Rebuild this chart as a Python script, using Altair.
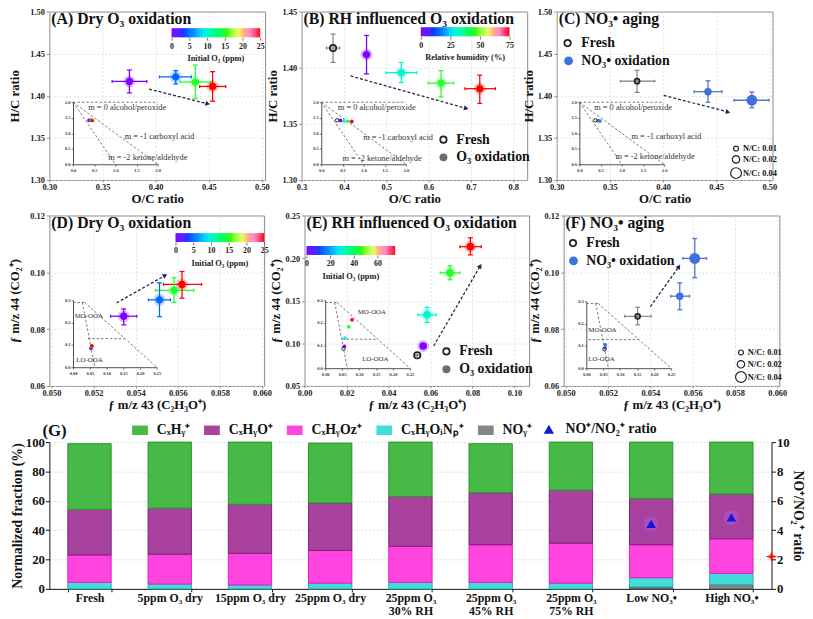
import math
import altair as alt
import pandas as pd

FONT = "Liberation Serif"
RAINBOW = ["#8000ff", "#2a2aff", "#0088ff", "#00f0e0", "#00ff70", "#30ff00", "#d8ff70", "#ff90c8", "#ff0000"]
NAVY = "#23234f"
BLUE = "#3f6fe0"

# ---------------- data ----------------
# (A) Dry O3 oxidation (O/C vs H/C)
a_o3 = [0, 5, 15, 25]
a_oc = [0.3753, 0.4189, 0.4373, 0.4536]
a_oc_lo = [0.3590, 0.4036, 0.4230, 0.4414]
a_oc_hi = [0.3916, 0.4337, 0.4520, 0.4659]
a_hc = [1.4170, 1.4225, 1.4163, 1.4111]
a_hc_lo = [1.4034, 1.4140, 1.3967, 1.3936]
a_hc_hi = [1.4306, 1.4300, 1.4365, 1.4287]
a_arrow_x = [0.3938, 0.4490]
a_arrow_y = [1.4080, 1.3905]

# (B) RH influenced O3 oxidation
b_rh = [0, 30, 45, 75]
b_oc = [0.4535, 0.5356, 0.6295, 0.7210]
b_oc_lo = [0.4460, 0.4993, 0.5990, 0.6860]
b_oc_hi = [0.4605, 0.5720, 0.6598, 0.7580]
b_hc = [1.4117, 1.3956, 1.3863, 1.3813]
b_hc_lo = [1.3945, 1.3868, 1.3740, 1.3682]
b_hc_hi = [1.4287, 1.4047, 1.3974, 1.3933]
b_fresh = [0.3744, 0.3590, 0.3900, 1.4175, 1.4047, 1.4300]
b_arrow_x = [0.4156, 0.6890]
b_arrow_y = [1.3927, 1.3638]

# (C) NO3 aging
c_nc = [0.02, 0.04]
c_oc = [0.4423, 0.4836]
c_oc_lo = [0.4293, 0.4668]
c_oc_hi = [0.4555, 0.4997]
c_hc = [1.4049, 1.3947]
c_hc_lo = [1.3924, 1.3858]
c_hc_hi = [1.4178, 1.4045]
c_fresh = [0.3756, 0.3598, 0.3923, 1.4174, 1.4040, 1.4303]
c_arrow_x = [0.4007, 0.4612]
c_arrow_y = [1.4006, 1.3807]

# (D) Dry O3 oxidation (f43 vs f44)
d_o3 = [0, 5, 15, 25]
d_f43 = [0.05343, 0.05513, 0.05582, 0.05620]
d_f43_lo = [0.05281, 0.05460, 0.05494, 0.05532]
d_f43_hi = [0.05405, 0.05565, 0.05676, 0.05713]
d_f44 = [0.08454, 0.09030, 0.09366, 0.09574]
d_f44_lo = [0.08150, 0.08440, 0.08940, 0.09090]
d_f44_hi = [0.08710, 0.09630, 0.09810, 0.10030]
d_arrow_x = [0.05309, 0.05540]
d_arrow_y = [0.08920, 0.09890]

# (E) RH influenced O3 oxidation
e_rh = [0, 30, 45, 75]
e_f43 = [0.0565, 0.0584, 0.0693, 0.0790]
e_f43_lo = [0.0560, 0.0540, 0.0646, 0.0740]
e_f43_hi = [0.0570, 0.0628, 0.0740, 0.0842]
e_f44 = [0.0968, 0.1334, 0.1827, 0.2134]
e_f44_lo = [0.0950, 0.1245, 0.1746, 0.2038]
e_f44_hi = [0.0986, 0.1423, 0.1911, 0.2238]
e_fresh = [0.0537, 0.0537, 0.0537, 0.0860, 0.0860, 0.0860]
e_arrow_x = [0.0615, 0.0837]
e_arrow_y = [0.0968, 0.1908]

# (F) NO3 aging
f_nc = [0.02, 0.04]
f_f43 = [0.05539, 0.05610]
f_f43_lo = [0.05496, 0.05554]
f_f43_hi = [0.05585, 0.05666]
f_f44 = [0.0916, 0.1049]
f_f44_lo = [0.0868, 0.0981]
f_f44_hi = [0.0963, 0.1119]
f_fresh = [0.0534, 0.05279, 0.05403, 0.0845, 0.0815, 0.0877]
f_arrow_x = [0.05400, 0.05535]
f_arrow_y = [0.0879, 0.1020]
nc_fresh = 0.01
nc_legend_vals = [0.01, 0.02, 0.04]

# insets
vk_lines_x = [[0, 2], [0, 2], [0, 1]]
vk_lines_y = [[2, 2], [2, 0], [2, 0]]
vk_labels = ["m = 0 alcohol/peroxide", "m = -1 carboxyl acid", "m = -2 ketone/aldehyde"]
tri_lines_x = [[0.0, 0.035], [0.028, 0.065], [0.035, 0.25]]
tri_lines_y = [[0.29, 0.29], [0.29, 0.0], [0.29, 0.0]]
tri_mid_y = 0.128
tri_labels = ["MO-OOA", "LO-OOA"]

# (G) stacked fractions
g_cats = ["Fresh", "5ppm O₃ dry", "15ppm O₃ dry", "25ppm O₃ dry", "25ppm O₃|30% RH",
          "25ppm O₃|45% RH", "25ppm O₃|75% RH", "Low NO₃•", "High NO₃•"]
g_comps = ["CₓHᵧ⁺", "CₓHᵧO⁺", "CₓHᵧOz⁺", "CₓHᵧOᵢNₚ⁺", "NOᵧ⁺"]
g_cxhy = [44.8, 45.0, 42.4, 40.8, 37.1, 33.4, 32.8, 38.4, 35.4]
g_cxhyo = [31.0, 31.4, 33.4, 32.3, 33.9, 35.4, 36.0, 31.5, 30.5]
g_cxhyoz = [18.7, 20.3, 21.6, 22.3, 24.6, 25.7, 27.3, 22.5, 23.6]
g_chon = [4.4, 3.3, 2.6, 3.9, 4.4, 4.4, 3.9, 6.3, 7.7]
g_noy = [0, 0, 0, 0, 0, 0, 0, 1.3, 2.8]
ratio_cats = ["Low NO₃•", "High NO₃•"]
ratio_val = [4.43, 4.87]
ratio_err = [0.17, 0.17]
ref_ratio = [2.2]
ratio_label = "NO⁺/NO₂⁺ ratio"

# ---------------- helpers ----------------
ONE = pd.DataFrame({"k": [0]})
MAIN_AX = dict(labelFont=FONT, labelFontSize=8.5, labelFontWeight="bold", labelColor="#222",
               titleFont=FONT, titleFontSize=13, titleFontWeight="bold",
               titleColor="#111", tickColor="#777", tickWidth=0.8,
               domain=False, grid=True, gridColor="#d4d4d4", gridDash=[2, 2], gridWidth=0.7)
INSET_AX = dict(labelFont=FONT, labelFontSize=4.5, labelFontWeight="bold", labelColor="#333",
                tickSize=2, tickColor="#222", tickWidth=0.6, domainColor="#222", domainWidth=0.8,
                labelPadding=1, grid=False, labelFlush=False, title=None)
VBAR = "M0,-1V1"
CB_LEN, CB_THICK, CB_STEPS = 90, 9, 90


def stops(hi):
    return [hi * i / 8 for i in range(9)]


def txt(x, y, s, size, align="left", color="#111", weight="bold"):
    return alt.Chart(ONE).mark_text(text=s, align=align, baseline="middle", font=FONT,
                                    fontSize=size, fontWeight=weight, color=color).encode(
        x=alt.value(x), y=alt.value(y))


def glyph(x, y, size, filled, color, sw=1.6):
    return alt.Chart(ONE).mark_point(shape="circle", filled=filled, size=size, color=color,
                                     strokeWidth=sw, opacity=1).encode(x=alt.value(x), y=alt.value(y))


def nc_size(v):
    return 25 + (v - 0.01) / 0.03 * 95


def colorbar(hi, vals, title, lx, ly):
    fill = alt.Color("c:Q", scale=alt.Scale(domain=stops(hi), range=RAINBOW), legend=None)
    stroke = alt.Stroke("c:Q", scale=alt.Scale(domain=stops(hi), range=RAINBOW), legend=None)
    return dict(fill=fill, stroke=stroke, cb=dict(hi=hi, vals=vals, title=title, lx=lx, ly=ly))


def pts(x, xlo, xhi, y, ylo, yhi, **extra):
    d = {"x": x, "xlo": xlo, "xhi": xhi, "y": y, "ylo": ylo, "yhi": yhi}
    d.update(extra)
    return pd.DataFrame(d)


def colorbar_layers(cb, fill, h):
    hi, lx, ly = cb["hi"], cb["lx"], cb["ly"]
    c0 = [hi * i / CB_STEPS for i in range(CB_STEPS)]
    c1 = [min(hi, hi * (i + 1.6) / CB_STEPS) for i in range(CB_STEPS)]
    ramp = pd.DataFrame({"c0": c0, "c1": c1, "c": [hi * (i + 0.5) / CB_STEPS for i in range(CB_STEPS)]})
    csc = alt.Scale(domain=[0, hi], range=[lx, lx + CB_LEN], nice=False, zero=False)
    cax = alt.Axis(orient="bottom", offset=(ly + CB_THICK) - h, values=cb["vals"], format="d", title=None,
                   grid=False, domain=False, labelFont=FONT, labelFontSize=8, labelFontWeight="bold",
                   labelColor="#222", tickSize=3, tickColor="#555", tickWidth=0.8, labelPadding=2,
                   labelFlush=False)
    bar = alt.Chart(ramp).mark_rect().encode(
        x=alt.X("c0:Q", scale=csc, axis=cax), x2="c1",
        y=alt.value(ly), y2=alt.value(ly + CB_THICK), color=fill)
    return [bar, txt(lx + CB_LEN / 2, ly + CB_THICK + 21, cb["title"], 8.5, align="center", color="#222")]


def panel(cfg):
    w, h = cfg["w"], cfg["h"]
    xsc = alt.Scale(domain=cfg["xdom"], nice=False, zero=False)
    ysc = alt.Scale(domain=cfg["ydom"], nice=False, zero=False)
    xax = alt.Axis(orient="bottom", values=cfg["xvals"], format=cfg["xfmt"], title=cfg["xtitle"],
                   labelFlush=False, titlePadding=1, tickSize=2, labelPadding=1, **MAIN_AX)
    yax = alt.Axis(orient="left", values=cfg["yvals"], format=cfg["yfmt"], title=cfg["ytitle"],
                   labelFlush=False, minExtent=cfg["yext"], maxExtent=cfg["yext"],
                   titlePadding=cfg["ytp"], tickSize=3, labelPadding=2, **MAIN_AX)

    def X(f):
        return alt.X(f"{f}:Q", scale=xsc, axis=xax)

    def Y(f):
        return alt.Y(f"{f}:Q", scale=ysc, axis=yax)

    ixsc = alt.Scale(domain=cfg["idx"], range=cfg["irx"], nice=False, zero=False)
    iysc = alt.Scale(domain=cfg["idy"], range=cfg["iry"], nice=False, zero=False)
    ixax = alt.Axis(orient="bottom", offset=cfg["iry"][0] - h, values=cfg["ixv"], format=cfg["ixf"], **INSET_AX)
    iyax = alt.Axis(orient="left", offset=-cfg["irx"][0], values=cfg["iyv"], format=cfg["iyf"], **INSET_AX)

    def IX(f):
        return alt.X(f"{f}:Q", scale=ixsc, axis=ixax)

    def IY(f):
        return alt.Y(f"{f}:Q", scale=iysc, axis=iyax)

    fill, stroke = cfg["color"]["fill"], cfg["color"]["stroke"]
    P = cfg["pts"]
    base = alt.Chart(P)
    lw = 1.3
    main = [
        base.mark_rule(strokeWidth=lw).encode(x=X("xlo"), x2="xhi", y=Y("y"), stroke=stroke),
        base.mark_rule(strokeWidth=lw).encode(x=X("x"), y=Y("ylo"), y2="yhi", stroke=stroke),
        base.mark_point(shape=VBAR, size=9, strokeWidth=lw, opacity=1).encode(x=X("xlo"), y=Y("y"), stroke=stroke),
        base.mark_point(shape=VBAR, size=9, strokeWidth=lw, opacity=1).encode(x=X("xhi"), y=Y("y"), stroke=stroke),
        base.mark_point(shape="stroke", size=25, strokeWidth=lw, opacity=1).encode(x=X("x"), y=Y("ylo"), stroke=stroke),
        base.mark_point(shape="stroke", size=25, strokeWidth=lw, opacity=1).encode(x=X("x"), y=Y("yhi"), stroke=stroke),
    ]
    if cfg.get("size_enc") is not None:
        main.append(base.mark_circle(opacity=0.25).encode(x=X("x"), y=Y("y"), color=fill,
                                                          size=cfg["halo_size_enc"]))
        main.append(base.mark_circle(opacity=1).encode(x=X("x"), y=Y("y"), color=fill, size=cfg["size_enc"]))
    else:
        main.append(base.mark_circle(opacity=0.25, size=150).encode(x=X("x"), y=Y("y"), color=fill))
        main.append(base.mark_circle(opacity=1, size=cfg["dot"]).encode(x=X("x"), y=Y("y"), color=fill))

    fr = cfg.get("fresh")
    if fr is not None:
        fb = alt.Chart(fr)
        gcol = "#7a7a7a"
        main += [
            fb.mark_rule(strokeWidth=1.1, color=gcol).encode(x=X("xlo"), x2="xhi", y=Y("y")),
            fb.mark_rule(strokeWidth=1.1, color=gcol).encode(x=X("x"), y=Y("ylo"), y2="yhi"),
            fb.mark_point(shape=VBAR, size=9, strokeWidth=1.1, color=gcol, opacity=1).encode(x=X("xlo"), y=Y("y")),
            fb.mark_point(shape=VBAR, size=9, strokeWidth=1.1, color=gcol, opacity=1).encode(x=X("xhi"), y=Y("y")),
            fb.mark_point(shape="stroke", size=25, strokeWidth=1.1, color=gcol, opacity=1).encode(x=X("x"), y=Y("ylo")),
            fb.mark_point(shape="stroke", size=25, strokeWidth=1.1, color=gcol, opacity=1).encode(x=X("x"), y=Y("yhi")),
            fb.mark_point(shape="circle", filled=False, color="#222", strokeWidth=1.8, opacity=1,
                          size=cfg["fresh_size"]).encode(x=X("x"), y=Y("y")),
        ]

    # arrow
    ax_, ay_ = cfg["arrow_x"], cfg["arrow_y"]
    arr = pd.DataFrame({"x": ax_, "y": ay_, "o": [0, 1]})
    px = (ax_[1] - ax_[0]) / (cfg["xdom"][1] - cfg["xdom"][0]) * w
    py = -(ay_[1] - ay_[0]) / (cfg["ydom"][1] - cfg["ydom"][0]) * h
    ang = math.degrees(math.atan2(px, -py)) % 360
    main.append(alt.Chart(arr).mark_line(strokeDash=[3, 2], strokeWidth=1.3, color=NAVY).encode(
        x=X("x"), y=Y("y"), order="o:Q"))
    main.append(alt.Chart(arr.iloc[[1]]).mark_point(shape="triangle-up", filled=True, size=28, angle=ang,
                                                    color=NAVY, opacity=1).encode(x=X("x"), y=Y("y")))

    main.append(txt(2, 8, cfg["title"], 16))
    main += cfg["extras"]

    # inset
    lines = cfg["ilines"]
    inset = [
        alt.Chart(lines).mark_line(strokeDash=[2.5, 2], strokeWidth=0.8, color="#555").encode(
            x=IX("x"), y=IY("y"), detail="g:N"),
        alt.Chart(cfg["ilabels"]).mark_text(align="left", baseline="middle", font=FONT,
                                           fontSize=cfg["ilabel_size"], color="#333").encode(
            x=IX("x"), y=IY("y"), text="t:N"),
        base.mark_circle(opacity=1, size=14).encode(x=IX("x"), y=IY("y"), color=fill),
    ]
    if fr is not None:
        inset.append(alt.Chart(fr).mark_point(shape="circle", filled=False, color="#222", strokeWidth=1,
                                              size=12, opacity=1).encode(x=IX("x"), y=IY("y")))

    children = [alt.layer(*main), alt.layer(*inset)]
    cb = cfg["color"].get("cb")
    if cb is not None:
        children.append(alt.layer(*colorbar_layers(cb, fill, h)))
    return alt.layer(*children).resolve_scale(
        x="independent", y="independent").properties(width=w, height=h)


def vk_inset(label_pos):
    rows = []
    for g, (xs, ys) in enumerate(zip(vk_lines_x, vk_lines_y)):
        for x, y in zip(xs, ys):
            rows.append({"x": x, "y": y, "g": g})
    lab = pd.DataFrame({"x": [p[0] for p in label_pos], "y": [p[1] for p in label_pos], "t": vk_labels})
    return pd.DataFrame(rows), lab


def tri_inset(mid_x0, label_pos):
    rows = []
    for g, (xs, ys) in enumerate(zip(tri_lines_x, tri_lines_y)):
        for x, y in zip(xs, ys):
            rows.append({"x": x, "y": y, "g": g})
    rows.append({"x": mid_x0, "y": tri_mid_y, "g": 9})
    rows.append({"x": 0.155, "y": tri_mid_y, "g": 9})
    lab = pd.DataFrame({"x": [p[0] for p in label_pos], "y": [p[1] for p in label_pos], "t": tri_labels})
    return pd.DataFrame(rows), lab


VK = dict(idx=[0, 2], idy=[0, 2], ixv=[0, 0.5, 1, 1.5, 2], ixf=".1f", iyv=[0, 0.5, 1, 1.5, 2], iyf=".1f",
          ilabel_size=8.5)
TRI = dict(idx=[0, 0.25], idy=[0, 0.3], ixv=[0, 0.05, 0.1, 0.15, 0.2, 0.25], ixf=".2f",
           iyv=[0, 0.1, 0.2, 0.3], iyf=".1f", ilabel_size=7)
ROW1 = dict(h=171, ydom=[1.30, 1.50], yvals=[1.30, 1.35, 1.40, 1.45, 1.50], yfmt=".2f",
            xtitle="O/C ratio", ytitle="H/C ratio")
ROW2 = dict(h=173, yfmt=".2f", xtitle="ƒ m/z 43 (C₂H₃O⁺)", ytitle="ƒ m/z 44 (CO₂⁺)")
LEFTCOL = dict(yext=24, ytp=4)
INNERCOL = dict(yext=20, ytp=2)

size_enc = alt.Size("nc:Q", scale=alt.Scale(domain=[0.01, 0.04], range=[25, 120]), legend=None)
halo_enc = alt.Size("nc:Q", scale=alt.Scale(domain=[0.01, 0.04], range=[25, 120]), legend=None)
BLUE_ENC = dict(fill=alt.value(BLUE), stroke=alt.value("#4a78c8"))


def nc_legend(x0, ys):
    out = []
    for v, yy in zip(nc_legend_vals, ys):
        out.append(glyph(x0, yy, nc_size(v), False, "#222", 1.2))
        out.append(txt(x0 + 7, yy, f"N/C: {v:.2f}", 8.5))
    return out


# ---- panels ----
lA, tA = vk_inset([(0.36, 1.84), (1.22, 0.91), (0.83, 0.24)])
A = panel(dict(ROW1, **VK, **LEFTCOL, w=219, xdom=[0.3, 0.503], xvals=[0.30, 0.35, 0.40, 0.45, 0.50],
               xfmt=".2f", irx=[24, 110], iry=[155, 92], ilines=lA, ilabels=tA,
               pts=pts(a_oc, a_oc_lo, a_oc_hi, a_hc, a_hc_lo, a_hc_hi, c=a_o3),
               color=colorbar(25, [0, 5, 10, 15, 20, 25], "Initial O₃ (ppm)", 124, 17), dot=55,
               arrow_x=a_arrow_x, arrow_y=a_arrow_y, title="(A) Dry O₃ oxidation", extras=[]))

lB, tB = vk_inset([(0.39, 1.85), (0.99, 0.88), (0.50, 0.21)])
B = panel(dict(ROW1, **VK, **INNERCOL, w=229, xdom=[0.3, 0.833], xvals=[0.3, 0.4, 0.5, 0.6, 0.7, 0.8],
               xfmt=".1f", ydom=[1.30, 1.45], yvals=[1.30, 1.35, 1.40, 1.45],
               irx=[20, 106], iry=[155, 92], ilines=lB, ilabels=tB,
               pts=pts(b_oc, b_oc_lo, b_oc_hi, b_hc, b_hc_lo, b_hc_hi, c=b_rh),
               fresh=pts(*[[v] for v in b_fresh]), fresh_size=42,
               color=colorbar(75, [0, 25, 50, 75], "Relative humidity (%)", 121, 16), dot=55,
               arrow_x=b_arrow_x, arrow_y=b_arrow_y, title="(B) RH influenced O₃ oxidation",
               extras=[glyph(144, 130, 42, False, "#222", 1.8), txt(157, 130, "Fresh", 14),
                       glyph(144, 148, 65, True, "#6d6d6d"), txt(157, 148, "O₃ oxidation", 14)]))

lC, tC = vk_inset([(0.35, 1.84), (1.23, 0.91), (0.85, 0.26)])
C = panel(dict(ROW1, **VK, **INNERCOL, w=219, xdom=[0.3, 0.503], xvals=[0.30, 0.35, 0.40, 0.45, 0.50],
               xfmt=".2f", irx=[23, 109], iry=[155, 92], ilines=lC, ilabels=tC,
               pts=pts(c_oc, c_oc_lo, c_oc_hi, c_hc, c_hc_lo, c_hc_hi, nc=c_nc),
               fresh=pts(*[[v] for v in c_fresh]), fresh_size=nc_size(nc_fresh),
               color=BLUE_ENC, size_enc=size_enc, halo_size_enc=halo_enc,
               arrow_x=c_arrow_x, arrow_y=c_arrow_y, title="(C) NO₃• aging",
               extras=[glyph(11, 32, 42, False, "#222", 1.8), txt(25, 32, "Fresh", 14),
                       glyph(12, 50, 80, True, BLUE), txt(25, 50, "NO₃• oxidation", 14)]
               + nc_legend(182, [139, 150, 164])))

lD, tD = tri_inset(0.044, [(0.005, 0.23), (0.01, 0.032)])
D = panel(dict(ROW2, **TRI, **LEFTCOL, w=218, xdom=[0.0499, 0.0601],
               xvals=[0.050, 0.052, 0.054, 0.056, 0.058, 0.060],
               xfmt=".3f", ydom=[0.06, 0.12], yvals=[0.06, 0.08, 0.10, 0.12],
               irx=[24, 109], iry=[154, 86], ilines=lD, ilabels=tD,
               pts=pts(d_f43, d_f43_lo, d_f43_hi, d_f44, d_f44_lo, d_f44_hi, c=d_o3),
               color=colorbar(25, [0, 5, 10, 15, 20, 25], "Initial O₃ (ppm)", 128, 18), dot=55,
               arrow_x=d_arrow_x, arrow_y=d_arrow_y, title="(D) Dry O₃ oxidation", extras=[]))

lE, tE = tri_inset(0.05, [(0.096, 0.25), (0.109, 0.042)])
E = panel(dict(ROW2, **TRI, **INNERCOL, w=228, xdom=[0.0, 0.107], xvals=[0.00, 0.02, 0.04, 0.06, 0.08, 0.10],
               xfmt=".2f", ydom=[0.05, 0.25], yvals=[0.05, 0.10, 0.15, 0.20, 0.25],
               irx=[21, 107], iry=[155, 86], ilines=lE, ilabels=tE,
               pts=pts(e_f43, e_f43_lo, e_f43_hi, e_f44, e_f44_lo, e_f44_hi, c=e_rh),
               fresh=pts(*[[v] for v in e_fresh]), fresh_size=42,
               color=colorbar(75, [0, 20, 40, 60], "Initial O₃ (ppm)", 2, 31), dot=60,
               arrow_x=e_arrow_x, arrow_y=e_arrow_y, title="(E) RH influenced O₃ oxidation",
               extras=[glyph(144, 138, 42, False, "#222", 1.8), txt(157, 138, "Fresh", 14),
                       glyph(144, 156, 65, True, "#6d6d6d"), txt(157, 156, "O₃ oxidation", 14)]))

lF, tF = tri_inset(0.006, [(0.006, 0.17), (0.006, 0.041)])
F = panel(dict(ROW2, **TRI, **INNERCOL, w=219, xdom=[0.0499, 0.0601],
               xvals=[0.050, 0.052, 0.054, 0.056, 0.058, 0.060],
               xfmt=".3f", ydom=[0.06, 0.12], yvals=[0.06, 0.08, 0.10, 0.12],
               irx=[23, 109], iry=[155, 87], ilines=lF, ilabels=tF,
               pts=pts(f_f43, f_f43_lo, f_f43_hi, f_f44, f_f44_lo, f_f44_hi, nc=f_nc),
               fresh=pts(*[[v] for v in f_fresh]), fresh_size=nc_size(nc_fresh),
               color=BLUE_ENC, size_enc=size_enc, halo_size_enc=halo_enc,
               arrow_x=f_arrow_x, arrow_y=f_arrow_y, title="(F) NO₃• aging",
               extras=[glyph(9.5, 28, 42, False, "#222", 1.8), txt(23, 28, "Fresh", 14),
                       glyph(10, 46, 80, True, BLUE), txt(23, 46, "NO₃• oxidation", 14)]
               + nc_legend(180, [139, 151, 164])))

# ---- (G) ----
GW, GH = 733, 149
G_FILL = ["#46b946", "#a8429e", "#ff44e0", "#44dcd8", "#858585"]
G_STROKE = ["#2b962b", "#7e1c7a", "#e021c0", "#22b0b0", "#555555"]
stack_order = ["NOᵧ⁺", "CₓHᵧOᵢNₚ⁺", "CₓHᵧOz⁺", "CₓHᵧO⁺", "CₓHᵧ⁺"]
series = {"NOᵧ⁺": g_noy, "CₓHᵧOᵢNₚ⁺": g_chon, "CₓHᵧOz⁺": g_cxhyoz, "CₓHᵧO⁺": g_cxhyo, "CₓHᵧ⁺": g_cxhy}
grows = []
for i, cat in enumerate(g_cats):
    for k, comp in enumerate(stack_order):
        grows.append({"cat": cat, "comp": comp, "v": series[comp][i], "idx": k})
gdf = pd.DataFrame(grows)

GX = alt.X("cat:N", scale=alt.Scale(domain=g_cats, paddingInner=0.46, paddingOuter=0.23),
           axis=alt.Axis(title=None, labelExpr="split(datum.label, '|')", labelAngle=0, tickBand="extent",
                         labelFont=FONT, labelFontSize=12, labelFontWeight="bold", labelColor="#111",
                         domainColor="#111", tickColor="#111", tickSize=3, labelPadding=1,
                         labelLineHeight=13, labelOverlap=False))
GYL = alt.Axis(orient="left", values=[0, 20, 40, 60, 80, 100], title="Normalized fraction (%)",
               labelFont=FONT, labelFontSize=13, labelFontWeight="bold", labelColor="#111",
               titleFont=FONT, titleFontSize=14, titleFontWeight="bold", titleColor="#111",
               titlePadding=1, labelPadding=1, tickSize=4, tickColor="#111", domainColor="#111",
               minExtent=24, maxExtent=24,
               grid=True, gridColor="#cccccc", gridDash=[2, 2], gridWidth=0.7)
GYR = alt.Axis(orient="right", values=[0, 2, 4, 6, 8, 10], title=ratio_label,
               labelFont=FONT, labelFontSize=13, labelFontWeight="bold", labelColor="#111",
               titleFont=FONT, titleFontSize=14, titleFontWeight="bold", titleColor="#111",
               titlePadding=1, labelPadding=1, tickSize=4, tickColor="#111", domainColor="#111",
               grid=False)

bars = alt.Chart(gdf).mark_bar(strokeWidth=1).encode(
    x=GX,
    y=alt.Y("v:Q", stack="zero", scale=alt.Scale(domain=[0, 100], nice=False), axis=GYL),
    color=alt.Color("comp:N", scale=alt.Scale(domain=g_comps, range=G_FILL),
                    legend=alt.Legend(orient="none", legendX=84, legendY=-20, direction="horizontal",
                                      title=None, symbolType="M-1,-0.6H1V0.6H-1Z", symbolSize=256,
                                      symbolStrokeWidth=0, labelFont=FONT, labelFontSize=14,
                                      labelFontWeight="bold", labelColor="#111", labelOffset=9,
                                      columnPadding=14, padding=0, symbolOpacity=1)),
    stroke=alt.Stroke("comp:N", scale=alt.Scale(domain=g_comps, range=G_STROKE), legend=None),
    order=alt.Order("idx:Q"),
)

rdf = pd.DataFrame({"cat": ratio_cats, "r": ratio_val,
                    "lo": [v - e for v, e in zip(ratio_val, ratio_err)],
                    "hi": [v + e for v, e in zip(ratio_val, ratio_err)],
                    "lbl": [ratio_label] * len(ratio_cats)})


def YR(f):
    return alt.Y(f"{f}:Q", scale=alt.Scale(domain=[0, 10], nice=False), axis=GYR)


STAR = "M0,-1L0.22,-0.22L1,0L0.22,0.22L0,1L-0.22,0.22L-1,0L-0.22,-0.22Z"
rb = alt.Chart(rdf)
ratio_layer = alt.layer(
    rb.mark_circle(size=230, color="#b060ff", opacity=0.35).encode(x=GX, y=YR("r")),
    rb.mark_rule(color="#0a0a80", strokeWidth=1).encode(x=GX, y=YR("lo"), y2="hi"),
    rb.mark_point(filled=True, size=95, color="#1515d5", opacity=1).encode(
        x=GX, y=YR("r"),
        shape=alt.Shape("lbl:N", scale=alt.Scale(domain=[ratio_label], range=["triangle-up"]),
                        legend=alt.Legend(orient="none", legendX=500, legendY=-20, direction="horizontal",
                                          title=None, symbolSize=110, symbolFillColor="#1515d5",
                                          symbolStrokeColor="#1515d5", labelFont=FONT, labelFontSize=14,
                                          labelFontWeight="bold", labelColor="#111", labelOffset=10,
                                          padding=0))),
    alt.Chart(pd.DataFrame({"r": ref_ratio})).mark_point(shape=STAR, filled=True, size=150, color="#ff1010",
                                                         opacity=1).encode(x=alt.value(GW), y=YR("r")),
)

G = alt.layer(bars, ratio_layer, txt(-7, -11, "(G)", 17)).resolve_scale(y="independent").properties(
    width=GW, height=GH, view=alt.ViewBackground(stroke="transparent"))

RES = dict(color="independent", size="independent", shape="independent", stroke="independent")
row1 = alt.hconcat(alt.hconcat(A, B, spacing=-4).resolve_scale(**RES), C, spacing=-10).resolve_scale(**RES)
row2 = alt.hconcat(alt.hconcat(D, E, spacing=-3).resolve_scale(**RES), F, spacing=-6).resolve_scale(**RES)
top = alt.vconcat(row1, row2, spacing=5).resolve_scale(**RES)
chart = alt.vconcat(top, G, spacing=10).resolve_scale(**RES).properties(
    padding={"top": -6, "left": 0, "right": 0, "bottom": 0}).configure(font=FONT).configure_view(
    stroke="#888888", strokeWidth=1)

chart.save("out.html", embed_options={"renderer": "svg", "actions": False})
